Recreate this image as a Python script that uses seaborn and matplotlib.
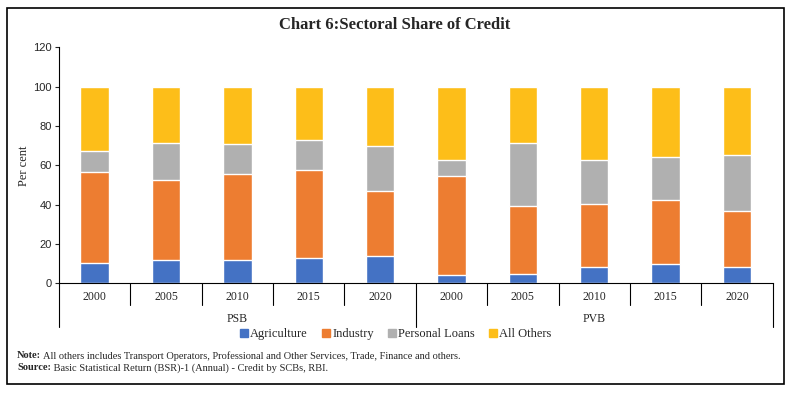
import numpy as np
import pandas as pd
import matplotlib.pyplot as plt
import seaborn as sns
from matplotlib.lines import Line2D
from matplotlib.patches import Rectangle
import matplotlib.transforms as mtransforms

# Data (per cent share)
banks = ["PSB"] * 5 + ["PVB"] * 5
years = ["2000", "2005", "2010", "2015", "2020"] * 2
agriculture = [10.5, 11.9, 11.9, 12.9, 13.9, 4.4, 4.7, 8.3, 10.0, 8.3]
industry = [46.1, 40.6, 43.7, 44.9, 32.9, 50.2, 34.8, 32.0, 32.4, 28.5]
personal_loans = [10.9, 18.7, 15.2, 15.3, 23.2, 8.1, 31.7, 22.4, 22.0, 28.3]
all_others = [32.5, 28.8, 29.2, 26.9, 30.0, 37.3, 28.8, 37.3, 35.6, 34.9]

series = ["Agriculture", "Industry", "Personal Loans", "All Others"]
colors = ["#4472C4", "#ED7D31", "#B0B0B0", "#FDBE19"]

df = pd.DataFrame({"bank": banks, "year": years,
                   "Agriculture": agriculture, "Industry": industry,
                   "Personal Loans": personal_loans, "All Others": all_others})
df["slot"] = df["bank"] + " " + df["year"]
cum = df[series].cumsum(axis=1)
order = list(df["slot"])

sns.set_style("white")
plt.rcParams['font.family'] = ['Liberation Serif', 'DejaVu Serif']

fig = plt.figure(figsize=(7.9, 3.93), dpi=100)
ax = fig.add_axes([0.0747, 0.279, 0.9033, 0.6004])

# stacked bars: draw cumulative totals from tallest to shortest
for name, col in reversed(list(zip(series, colors))):
    sns.barplot(x=df["slot"], y=cum[name], order=order, color=col,
                width=0.4, saturation=1, ax=ax)

ax.set_xlim(-0.5, 9.5)
ax.set_ylim(0, 120)
ax.set_yticks(range(0, 121, 20))
ax.set_xticks([])
ax.set_xlabel("")
ax.set_ylabel("Per cent", fontsize=9)
ax.yaxis.set_label_coords(-0.04, 0.5)
for lbl in ax.get_yticklabels():
    lbl.set_family(['Liberation Sans', 'DejaVu Sans'])
    lbl.set_fontsize(8)
ax.tick_params(axis='y', length=3, width=0.8, direction='out', left=True, pad=2)
sns.despine(ax=ax, top=True, right=True)
for s in ["left", "bottom"]:
    ax.spines[s].set_color("black")
    ax.spines[s].set_linewidth(0.8)

# multi-level category axis
trans = mtransforms.blended_transform_factory(ax.transData, ax.transAxes)
for i in range(11):
    xb = i - 0.5
    ybot = -0.185 if i in (0, 5, 10) else -0.092
    ax.add_line(Line2D([xb, xb], [0, ybot], transform=trans, color="black",
                       lw=0.8, clip_on=False))
for i, yr in enumerate(years):
    ax.text(i, -0.058, yr, transform=trans, ha="center", va="center", fontsize=8.5)
for j, b in enumerate(["PSB", "PVB"]):
    ax.text(j * 5 + 2, -0.151, b, transform=trans, ha="center", va="center", fontsize=8.5)

# legend
handles = [Line2D([], [], marker="s", linestyle="", color=c, markersize=5.5) for c in colors]
fig.legend(handles, series, loc="center", bbox_to_anchor=(0.5, 1 - 334 / 393),
           ncol=4, frameon=False, fontsize=9, handletextpad=0.05,
           columnspacing=1.0, handlelength=0.9)

# title
fig.text(0.5, 1 - 25 / 393, "Chart 6:Sectoral Share of Credit", ha="center",
         va="center", fontsize=12, fontweight="bold")

# notes with bold prefix
fig.canvas.draw()
renderer = fig.canvas.get_renderer()
for y_pix, head, body in [(356, "Note:", " All others includes Transport Operators, Professional and Other Services, Trade, Finance and others."),
                          (368, "Source:", " Basic Statistical Return (BSR)-1 (Annual) - Credit by SCBs, RBI.")]:
    t = fig.text(17 / 790, 1 - y_pix / 393, head, fontsize=7.5, fontweight="bold", va="center")
    bb = t.get_window_extent(renderer=renderer)
    fig.text(bb.x1 / fig.bbox.width, 1 - y_pix / 393, body, fontsize=7.5, va="center")

# outer frame
fig.add_artist(Rectangle((7 / 790, 1 - 384 / 393), 777 / 790, 376 / 393,
                         transform=fig.transFigure, fill=False, edgecolor="black", lw=1.2))

plt.savefig("out.png", dpi=100)
